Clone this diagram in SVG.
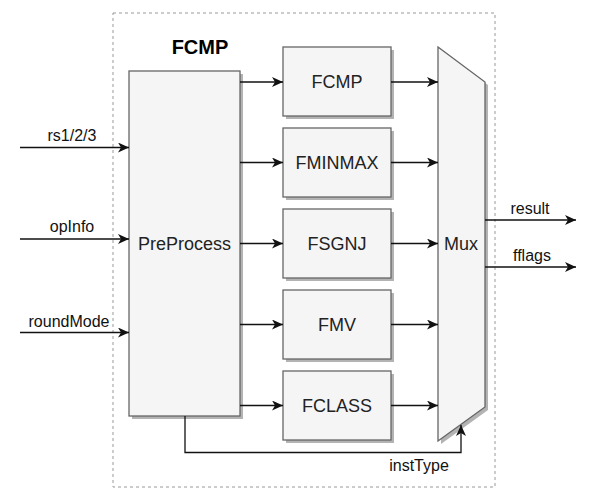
<svg xmlns="http://www.w3.org/2000/svg" width="598" height="501" viewBox="0 0 598 501">
<style>
.box{fill:#f5f5f5;stroke:#666;stroke-width:1.3}
.sh{fill:#b3b3b3;stroke:none}
.nt{font-family:"Liberation Sans",Arial,sans-serif;font-size:18px;fill:#222;text-anchor:middle}
.lb{font-family:"Liberation Sans",Arial,sans-serif;font-size:16px;fill:#111;text-anchor:middle}
.ln{fill:none;stroke:#111;stroke-width:1.3;marker-end:url(#ah)}
</style>
<defs>
<marker id="ah" markerWidth="12" markerHeight="10" refX="11" refY="5" orient="auto" markerUnits="userSpaceOnUse">
<path d="M0,0 L11,5 L0,10 L3,5 Z" fill="#111"/>
</marker>
</defs>
<rect x="113" y="13" width="382" height="474" fill="none" stroke="#999" stroke-width="1" stroke-dasharray="3 3"/>
<text x="200" y="54" font-family="Liberation Sans,Arial,sans-serif" font-size="20" font-weight="bold" text-anchor="middle" fill="#000">FCMP</text>
<g id="preprocess">
<rect class="sh" x="132" y="74" width="111" height="345"/>
<rect class="box" x="129" y="71" width="111" height="345"/>
<text class="nt" x="184.5" y="250">PreProcess</text>
</g>
<g id="fcmp">
<rect class="sh" x="286" y="50" width="108" height="69"/>
<rect class="box" x="283" y="47" width="108" height="69"/>
<text class="nt" x="337" y="88">FCMP</text>
</g>
<g id="fminmax">
<rect class="sh" x="286" y="131" width="108" height="69"/>
<rect class="box" x="283" y="128" width="108" height="69"/>
<text class="nt" x="337" y="169">FMINMAX</text>
</g>
<g id="fsgnj">
<rect class="sh" x="286" y="212" width="108" height="69"/>
<rect class="box" x="283" y="209" width="108" height="69"/>
<text class="nt" x="337" y="250">FSGNJ</text>
</g>
<g id="fmv">
<rect class="sh" x="286" y="293" width="108" height="69"/>
<rect class="box" x="283" y="290" width="108" height="69"/>
<text class="nt" x="337" y="331">FMV</text>
</g>
<g id="fclass">
<rect class="sh" x="286" y="374" width="108" height="69"/>
<rect class="box" x="283" y="371" width="108" height="69"/>
<text class="nt" x="337" y="412">FCLASS</text>
</g>
<g id="mux">
<polygon class="sh" points="441,50 488,85 488,410 441,444"/>
<polygon class="box" points="438,47 485,82 485,407 438,441"/>
<text class="nt" x="461" y="250">Mux</text>
</g>
<g id="connectors">
<path class="ln" d="M20,147.5 H129"/>
<path class="ln" d="M20,239 H129"/>
<path class="ln" d="M20,332.5 H129"/>
<path class="ln" d="M240,82 H283"/>
<path class="ln" d="M240,162.5 H283"/>
<path class="ln" d="M240,243.5 H283"/>
<path class="ln" d="M240,324.5 H283"/>
<path class="ln" d="M240,405.5 H283"/>
<path class="ln" d="M391,82 H438"/>
<path class="ln" d="M391,162.5 H438"/>
<path class="ln" d="M391,243.5 H438"/>
<path class="ln" d="M391,324.5 H438"/>
<path class="ln" d="M391,405.5 H438"/>
<path class="ln" d="M485,220 H576"/>
<path class="ln" d="M485,267 H576"/>
<path class="ln" d="M185,416 V452.5 H461 V425"/>
<text class="lb" x="72" y="141">rs1/2/3</text>
<text class="lb" x="72" y="232">opInfo</text>
<text class="lb" x="69" y="327">roundMode</text>
<text class="lb" x="530" y="214">result</text>
<text class="lb" x="532" y="261">fflags</text>
<text class="lb" x="419" y="471">instType</text>
</g>
</svg>
